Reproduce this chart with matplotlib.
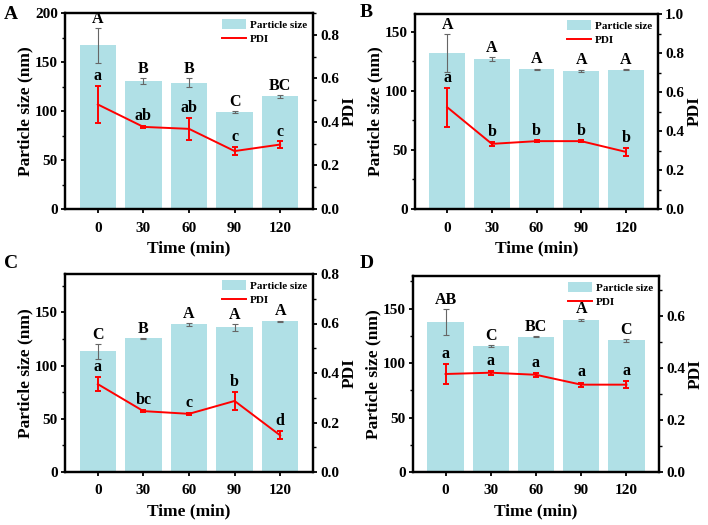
import numpy as np
import matplotlib.pyplot as plt
from matplotlib.ticker import AutoMinorLocator

plt.rcParams['font.family'] = ['Liberation Serif', 'DejaVu Serif']
plt.rcParams['font.weight'] = 'bold'

times = ['0', '30', '60', '90', '120']

# particle size (nm) and PDI per panel
size_A = [167, 131, 129, 99, 115]
size_A_err = [18, 3, 5, 1, 1.5]
pdi_A = [0.48, 0.377, 0.368, 0.266, 0.296]
pdi_A_err = [0.086, 0.006, 0.05, 0.02, 0.015]
cap_A = ['A', 'B', 'B', 'C', 'BC']
low_A = ['a', 'ab', 'ab', 'c', 'c']

size_B = [132, 126.7, 118.3, 116.9, 118]
size_B_err = [16, 1.5, 0.5, 1, 0.5]
pdi_B = [0.522, 0.334, 0.348, 0.348, 0.293]
pdi_B_err = [0.1, 0.01, 0.005, 0.004, 0.02]
cap_B = ['A', 'A', 'A', 'A', 'A']
low_B = ['a', 'b', 'b', 'b', 'b']

size_C = [113.6, 125.6, 138.6, 135.8, 141.8]
size_C_err = [7, 0.5, 1, 3.5, 0.5]
pdi_C = [0.355, 0.246, 0.235, 0.287, 0.148]
pdi_C_err = [0.027, 0.003, 0.004, 0.037, 0.016]
cap_C = ['C', 'B', 'A', 'A', 'A']
low_C = ['a', 'bc', 'c', 'b', 'd']

size_D = [137.4, 116, 124.2, 139.9, 120.9]
size_D_err = [12, 1, 0.5, 1, 1.5]
pdi_D = [0.377, 0.382, 0.374, 0.336, 0.336]
pdi_D_err = [0.038, 0.008, 0.008, 0.008, 0.014]
cap_D = ['AB', 'C', 'BC', 'A', 'C']
low_D = ['a', 'a', 'a', 'a', 'a']

panels = [
    ('A', size_A, size_A_err, pdi_A, pdi_A_err, cap_A, low_A, 200, [0, 50, 100, 150, 200], 0.9, [0, 0.2, 0.4, 0.6, 0.8]),
    ('B', size_B, size_B_err, pdi_B, pdi_B_err, cap_B, low_B, 165, [0, 50, 100, 150], 1.0, [0, 0.2, 0.4, 0.6, 0.8, 1.0]),
    ('C', size_C, size_C_err, pdi_C, pdi_C_err, cap_C, low_C, 186, [0, 50, 100, 150], 0.8, [0, 0.2, 0.4, 0.6, 0.8]),
    ('D', size_D, size_D_err, pdi_D, pdi_D_err, cap_D, low_D, 180, [0, 50, 100, 150], 0.754, [0, 0.2, 0.4, 0.6]),
]

# axes boxes in pixels: left, top, right, bottom
boxes = [(65, 13, 313, 209), (415, 14, 658, 209), (65, 274, 313, 472), (413, 276, 659, 472)]
# panel letter positions (pixels, top-left)
letter_pos = [(4, 6), (360, 4), (4, 255), (360, 255)]

W, H = 708, 525
fig = plt.figure(figsize=(7.08, 5.25), dpi=100)

for (lab, size, serr, pdi, perr, caps, lows, ymax, yt, rmax, rt), (l, t, r, b), (lx, ly) in zip(panels, boxes, letter_pos):
    ax = fig.add_axes([l / W, 1 - b / H, (r - l) / W, (b - t) / H])
    x = np.arange(len(times))
    ax.bar(x, size, width=0.8, color='#b0e0e6', label='Particle size', zorder=1)
    ax.errorbar(x, size, yerr=serr, fmt='none', ecolor='#666666', elinewidth=0.8, capsize=2, capthick=0.8, zorder=2)
    ax.set_xlim(-0.72, 4.72)
    ax.set_ylim(0, ymax)
    ax.set_yticks(yt)
    ax.set_xticks(x)
    ax.set_xticklabels(times)
    ax.set_xlabel('Time (min)', fontsize=12.5, fontweight='bold', labelpad=4)
    ax.set_ylabel('Particle size (nm)', fontsize=12.5, fontweight='bold', labelpad=1)
    ax.yaxis.set_minor_locator(AutoMinorLocator(2))
    ax.tick_params(axis='both', labelsize=11, width=1.3, length=3, direction='out')
    ax.tick_params(axis='x', pad=6)
    ax.tick_params(axis='y', pad=2)
    ax.tick_params(axis='y', which='minor', width=1.0, length=2)
    for s in ax.spines.values():
        s.set_linewidth(1.6)
    for xi, v, e, c in zip(x, size, serr, caps):
        ax.text(xi, v + e + 1, c, ha='center', va='bottom', fontsize=11.5, fontweight='bold')

    ax2 = ax.twinx()
    ax2.errorbar(x, pdi, yerr=perr, color='#ff0000', lw=1.4, elinewidth=1.4, capsize=2.5, capthick=1.4, label='PDI', zorder=3)
    ax2.set_ylim(0, rmax)
    ax2.set_yticks(rt)
    ax2.set_yticklabels(['%.1f' % v for v in rt])
    ax2.set_ylabel('PDI', fontsize=12.5, fontweight='bold', labelpad=2)
    ax2.yaxis.set_minor_locator(AutoMinorLocator(2))
    ax2.tick_params(axis='y', labelsize=11, width=1.3, length=3, direction='out', pad=2)
    ax2.tick_params(axis='y', which='minor', width=1.0, length=2)
    for s in ax2.spines.values():
        s.set_linewidth(1.6)
    for xi, v, e, c in zip(x, pdi, perr, lows):
        ax2.text(xi, v + e + 0.008, c, ha='center', va='bottom', fontsize=11.5, fontweight='bold')

    h1, l1 = ax.get_legend_handles_labels()
    h2, l2 = ax2.get_legend_handles_labels()
    leg = ax2.legend(h1 + [h2[0][0]], l1 + l2, loc='upper right', frameon=False, fontsize=8,
                     borderaxespad=0.15, handlelength=2.2, handleheight=1.0,
                     handletextpad=0.3, labelspacing=0.3)
    fig.text(lx / W, 1 - ly / H, lab, fontsize=14, fontweight='bold', ha='left', va='top')

fig.savefig('out.png', dpi=100)
